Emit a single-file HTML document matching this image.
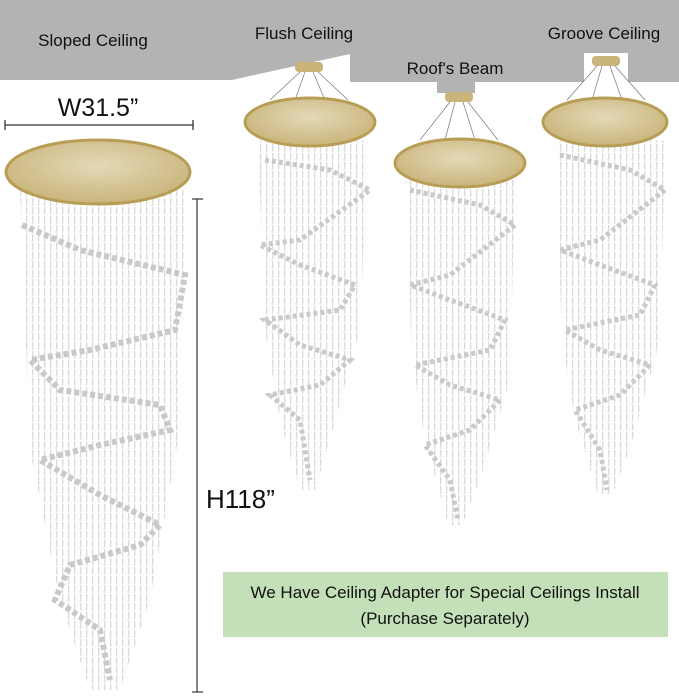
<!DOCTYPE html>
<html><head><meta charset="utf-8"><style>
html,body{margin:0;padding:0;background:#fff}
body{width:679px;height:694px;overflow:hidden;font-family:"Liberation Sans","DejaVu Sans",sans-serif}
</style></head><body>
<svg width="679" height="694" viewBox="0 0 679 694" xmlns="http://www.w3.org/2000/svg">
<defs>
<pattern id="cr" width="6" height="9" patternUnits="userSpaceOnUse">
<rect x="2" y="0" width="1.3" height="6" fill="#d9d9d9"/>
<circle cx="2.6" cy="7" r="1.1" fill="#e6e6e6"/>
</pattern>
<radialGradient id="gd" cx="50%" cy="40%" r="60%">
<stop offset="0" stop-color="#e4d9b8"/><stop offset="1" stop-color="#c9b47a"/>
</radialGradient>
</defs>
<!-- ceiling -->
<polygon points="0,0 679,0 679,82 628,82 628,53 584,53 584,82 475,82 475,93 437,93 437,82 350,82 350,54 232,80 0,80" fill="#b3b3b3"/>
<!-- left chandelier -->
<polygon points="20,190 185,190 180,430 150,600 120,690 90,690 60,600 30,450" fill="url(#cr)"/>
<polyline points="22,225 80,250 185,275 175,330 90,350 30,360 60,390 160,405 170,430 100,445 40,460 100,495 160,525 140,545 70,565 55,600 100,630 110,680" fill="none" stroke="#c9c9c9" stroke-width="6" stroke-dasharray="5 3"/>
<ellipse cx="98" cy="172" rx="92" ry="32" fill="url(#gd)" stroke="#b89d55" stroke-width="3"/>
<!-- flush -->
<polygon points="258,140 368,140 360,330 330,440 315,490 300,490 280,420 265,330" fill="url(#cr)"/>
<polyline points="265,160 330,170 370,190 300,240 260,245 300,265 355,285 340,310 265,320 300,345 350,360 320,385 270,395 300,420 310,480" fill="none" stroke="#cacaca" stroke-width="5" stroke-dasharray="4 3"/>
<rect x="295" y="62" width="28" height="10" rx="4" fill="#c9b47a"/>
<line x1="300" y1="72" x2="270" y2="100" stroke="#777" stroke-width="0.7"/><line x1="318" y1="72" x2="348" y2="100" stroke="#777" stroke-width="0.7"/>
<line x1="305" y1="72" x2="295" y2="100" stroke="#777" stroke-width="0.7"/><line x1="313" y1="72" x2="325" y2="100" stroke="#777" stroke-width="0.7"/>
<ellipse cx="310" cy="122" rx="65" ry="24" fill="url(#gd)" stroke="#b89d55" stroke-width="3"/>
<!-- beam -->
<polygon points="405,180 515,180 510,380 480,480 462,525 448,525 425,440 412,360" fill="url(#cr)"/>
<polyline points="410,190 480,205 515,225 450,275 410,285 450,300 505,320 490,350 415,365 450,385 500,400 470,430 425,445 450,480 458,520" fill="none" stroke="#cacaca" stroke-width="5" stroke-dasharray="4 3"/>
<rect x="445" y="92" width="28" height="10" rx="4" fill="#c9b47a"/>
<line x1="450" y1="102" x2="420" y2="140" stroke="#777" stroke-width="0.7"/><line x1="468" y1="102" x2="498" y2="140" stroke="#777" stroke-width="0.7"/>
<line x1="455" y1="102" x2="445" y2="140" stroke="#777" stroke-width="0.7"/><line x1="463" y1="102" x2="475" y2="140" stroke="#777" stroke-width="0.7"/>
<ellipse cx="460" cy="163" rx="65" ry="24" fill="url(#gd)" stroke="#b89d55" stroke-width="3"/>
<!-- groove -->
<polygon points="555,140 665,140 660,340 630,450 612,495 598,495 575,420 562,340" fill="url(#cr)"/>
<polyline points="560,155 630,170 665,190 600,240 560,250 600,265 655,285 640,315 565,330 600,350 650,365 620,395 575,410 600,450 607,490" fill="none" stroke="#cacaca" stroke-width="5" stroke-dasharray="4 3"/>
<rect x="592" y="56" width="28" height="10" rx="4" fill="#c9b47a"/>
<line x1="597" y1="66" x2="567" y2="100" stroke="#777" stroke-width="0.7"/><line x1="615" y1="66" x2="645" y2="100" stroke="#777" stroke-width="0.7"/>
<line x1="602" y1="66" x2="592" y2="100" stroke="#777" stroke-width="0.7"/><line x1="610" y1="66" x2="622" y2="100" stroke="#777" stroke-width="0.7"/>
<ellipse cx="605" cy="122" rx="62" ry="24" fill="url(#gd)" stroke="#b89d55" stroke-width="3"/>
<!-- dimensions -->
<line x1="5" y1="125" x2="193" y2="125" stroke="#333" stroke-width="1.3"/>
<line x1="5" y1="120" x2="5" y2="130" stroke="#333" stroke-width="1.3"/>
<line x1="193" y1="120" x2="193" y2="130" stroke="#333" stroke-width="1.3"/>
<line x1="197" y1="199" x2="197" y2="692" stroke="#444" stroke-width="1.3"/>
<line x1="192" y1="199" x2="203" y2="199" stroke="#444" stroke-width="1.3"/>
<line x1="192" y1="692" x2="203" y2="692" stroke="#444" stroke-width="1.3"/>
<text x="98" y="116" font-size="25" text-anchor="middle" fill="#111">W31.5”</text>
<text x="206" y="508" font-size="26" fill="#111">H118”</text>
<!-- labels -->
<text x="93" y="46" font-size="17" text-anchor="middle" fill="#111">Sloped Ceiling</text>
<text x="304" y="39" font-size="17" text-anchor="middle" fill="#111">Flush Ceiling</text>
<text x="455" y="74" font-size="17" text-anchor="middle" fill="#111">Roof's Beam</text>
<text x="604" y="39" font-size="17" text-anchor="middle" fill="#111">Groove Ceiling</text>
<!-- green box -->
<rect x="223" y="572" width="445" height="65" fill="#c3e0b8"/>
<text x="445" y="598" font-size="17" text-anchor="middle" fill="#111">We Have Ceiling Adapter for Special Ceilings Install</text>
<text x="445" y="624" font-size="17" text-anchor="middle" fill="#111">(Purchase Separately)</text>
</svg>
</body></html>
